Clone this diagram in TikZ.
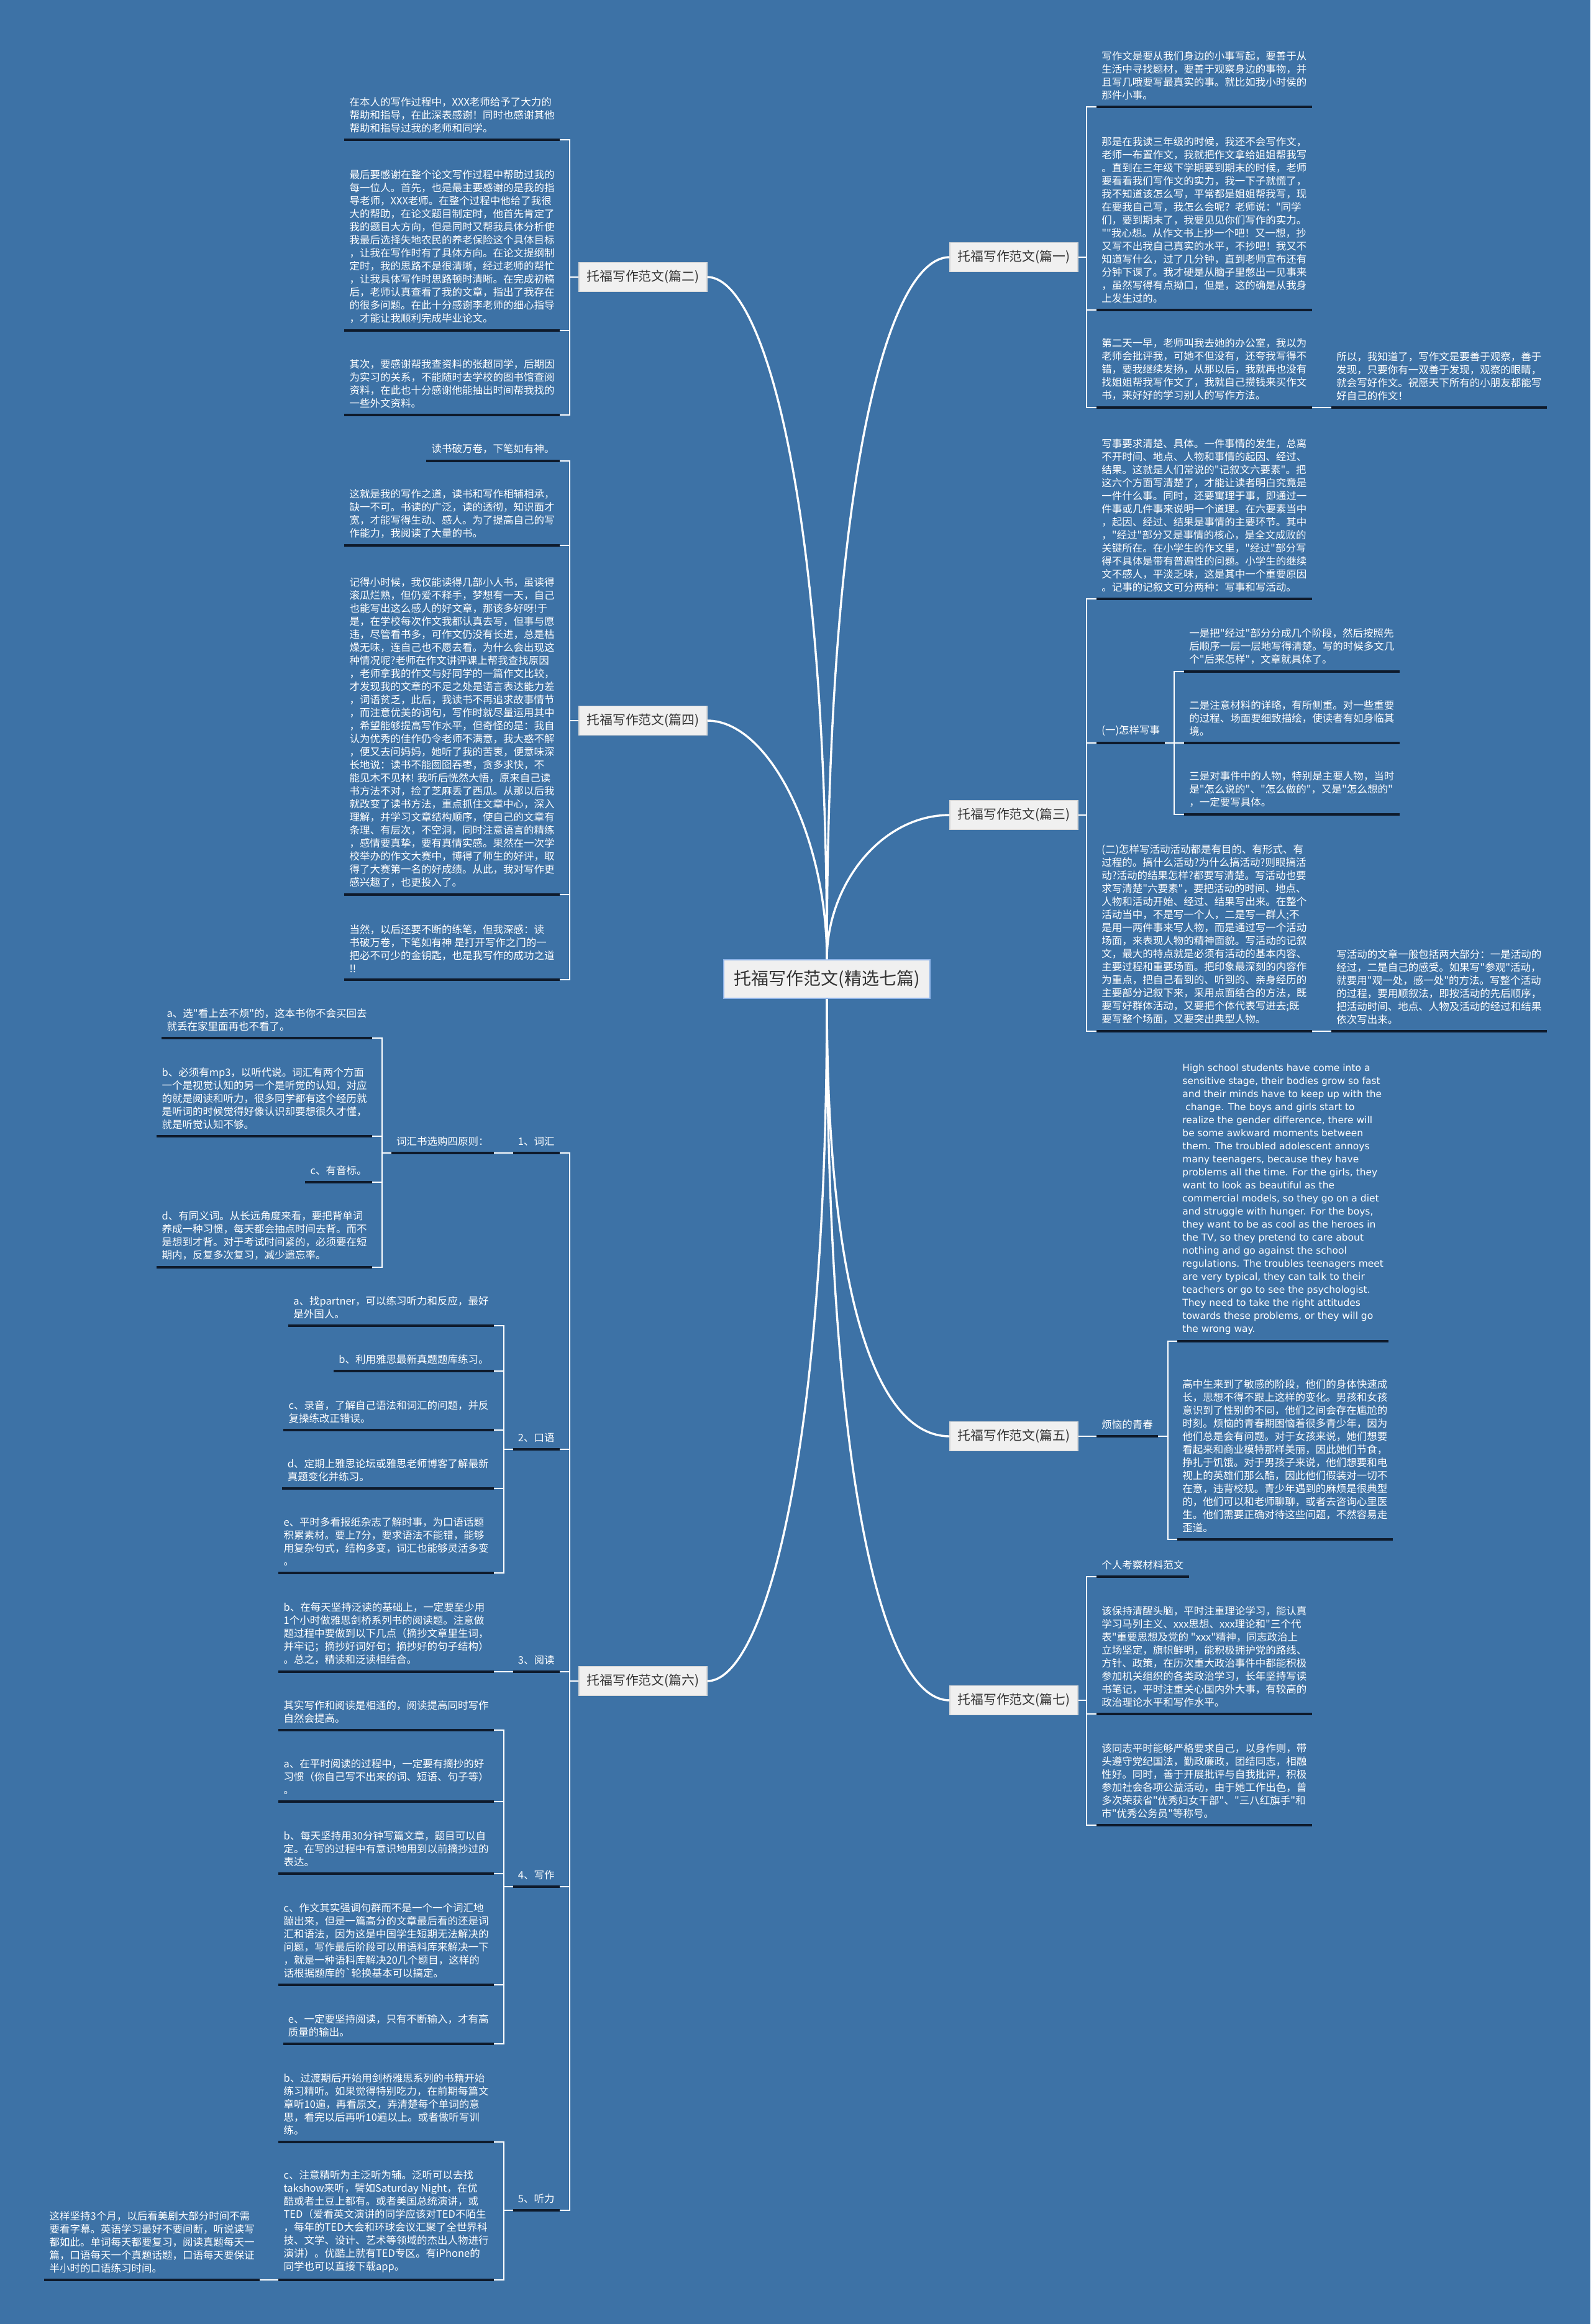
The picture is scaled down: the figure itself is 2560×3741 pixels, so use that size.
\documentclass[tikz,border=0pt]{standalone}
\usepackage{fontspec}
\newfontfamily\cjk{Noto Sans CJK SC}
\newfontfamily\enfont{DejaVu Sans}
\definecolor{bgcol}{HTML}{3D72A6}
\definecolor{ulcol}{HTML}{0E1A2B}
\definecolor{boxfill}{HTML}{F0F0F0}
\definecolor{boxtext}{HTML}{333333}
\definecolor{boxdraw}{HTML}{D8D8D8}
\definecolor{rootdraw}{HTML}{8DB3E8}
\tikzset{
  uline/.style={draw=ulcol, line width=1.75pt},
  leaf/.style={font=\cjk\fontsize{8.25pt}{10.5pt}\selectfont, text=white, align=left,
    inner xsep=4pt, inner ysep=5.5pt,
    append after command={(\tikzlastnode.south west) edge[uline] (\tikzlastnode.south east)}},
  leafR/.style={leaf, anchor=south west},
  leafL/.style={leaf, anchor=south east},
  conn/.style={draw=white, line width=1.4pt},
  curve/.style={draw=white, line width=1.7pt},
  branch/.style={draw=boxdraw, line width=0.6pt, fill=boxfill, text=boxtext,
    font=\cjk\fontsize{10.4pt}{12pt}\selectfont, minimum width=103pt, minimum height=23.5pt, inner sep=0pt},
  root/.style={draw=rootdraw, line width=1pt, fill=boxfill, text=boxtext,
    font=\cjk\fontsize{14pt}{16pt}\selectfont, minimum width=166pt, minimum height=31pt, inner sep=0pt}
}
\begin{document}
\begin{tikzpicture}[x=0.5pt,y=-0.5pt]
\useasboundingbox (0,0) rectangle (2560,3741);
\fill[bgcol] (0,0) rectangle (2560,3741);

% root
\node[root] (root) at (1331,1576) {托福写作范文(精选七篇)};

% branches
\node[branch] (b1) at (1632,414) {托福写作范文(篇一)};
\node[branch] (b3) at (1632,1312) {托福写作范文(篇三)};
\node[branch] (b5) at (1632,2312) {托福写作范文(篇五)};
\node[branch] (b7) at (1632,2737) {托福写作范文(篇七)};
\node[branch] (b2) at (1035,446) {托福写作范文(篇二)};
\node[branch] (b4) at (1035,1160) {托福写作范文(篇四)};
\node[branch] (b6) at (1035,2706) {托福写作范文(篇六)};

% curves
\draw[curve] (root.north) .. controls +(0,-745) and +(90,0) .. (b2.east);
\draw[curve] (root.north) .. controls +(0,-195) and +(100,0) .. (b4.east);
\draw[curve] (root.north) .. controls +(0,-770) and +(-100,0) .. (b1.west);
\draw[curve] (root.north) .. controls +(0,-120) and +(-110,0) .. (b3.west);
\draw[curve] (root.south) .. controls +(0,470) and +(-120,0) .. (b5.west);
\draw[curve] (root.south) .. controls +(0,745) and +(90,0) .. (b6.east);
\draw[curve] (root.south) .. controls +(0,760) and +(-110,0) .. (b7.west);

% ---------------- 篇一
\node[leafR] (b1a) at (1765,172) {写作文是要从我们身边的小事写起，要善于从\\%
生活中寻找题材，要善于观察身边的事物，并\\%
且写几哦要写最真实的事。就比如我小时侯的\\%
那件小事。};
\node[leafR] (b1b) at (1765,499) {那是在我读三年级的时候，我还不会写作文，\\%
老师一布置作文，我就把作文拿给姐姐帮我写\\%
。直到在三年级下学期要到期末的时候，老师\\%
要看看我们写作文的实力，我一下子就慌了，\\%
我不知道该怎么写，平常都是姐姐帮我写，现\\%
在要我自己写，我怎么会呢？老师说："同学\\%
们，要到期末了，我要见见你们写作的实力。\\%
""我心想。从作文书上抄一个吧！又一想，抄\\%
又写不出我自己真实的水平，不抄吧！我又不\\%
知道写什么，过了几分钟，直到老师宣布还有\\%
分钟下课了。我才硬是从脑子里憋出一见事来\\%
，虽然写得有点拗口，但是，这的确是从我身\\%
上发生过的。};
\node[leafR] (b1c) at (1765,656) {第二天一早，老师叫我去她的办公室，我以为\\%
老师会批评我，可她不但没有，还夸我写得不\\%
错，要我继续发扬，从那以后，我就再也没有\\%
找姐姐帮我写作文了，我就自己攒钱来买作文\\%
书，来好好的学习别人的写作方法。};
\node[leafR] (b1c1) at (2143,656) {所以，我知道了，写作文是要善于观察，善于\\%
发现，只要你有一双善于发现，观察的眼睛，\\%
就会写好作文。祝愿天下所有的小朋友都能写\\%
好自己的作文！};
\draw[conn] (b1.east) -| ([xshift=-8pt]b1a.south west) -- (b1a.south west);
\draw[conn] (b1.east) -| ([xshift=-8pt]b1c.south west) -- (b1c.south west);
\draw[conn] ([xshift=-8pt]b1b.south west) -- (b1b.south west);
\draw[conn] (b1c.south east) -- (b1c1.south west);

% ---------------- 篇三
\node[leafR] (b3a) at (1765,964) {写事要求清楚、具体。一件事情的发生，总离\\%
不开时间、地点、人物和事情的起因、经过、\\%
结果。这就是人们常说的"记叙文六要素"。把\\%
这六个方面写清楚了，才能让读者明白究竟是\\%
一件什么事。同时，还要寓理于事，即通过一\\%
件事或几件事来说明一个道理。在六要素当中\\%
，起因、经过、结果是事情的主要环节。其中\\%
，"经过"部分又是事情的核心，是全文成败的\\%
关键所在。在小学生的作文里，"经过"部分写\\%
得不具体是带有普遍性的问题。小学生的继续\\%
文不感人，平淡乏味，这是其中一个重要原因\\%
。记事的记叙文可分两种：写事和写活动。};
\node[leafR] (b3b) at (1765,1196) {(一)怎样写事};
\node[leafR] (b3b1) at (1906,1081) {一是把"经过"部分分成几个阶段，然后按照先\\%
后顺序一层一层地写得清楚。写的时候多文几\\%
个"后来怎样"，文章就具体了。};
\node[leafR] (b3b2) at (1906,1196) {二是注意材料的详略，有所侧重。对一些重要\\%
的过程、场面要细致描绘，使读者有如身临其\\%
境。};
\node[leafR] (b3b3) at (1906,1311) {三是对事件中的人物，特别是主要人物，当时\\%
是"怎么说的"、"怎么做的"，又是"怎么想的"\\%
，一定要写具体。};
\node[leafR] (b3c) at (1765,1660) {(二)怎样写活动活动都是有目的、有形式、有\\%
过程的。搞什么活动?为什么搞活动?则眼搞活\\%
动?活动的结果怎样?都要写清楚。写活动也要\\%
求写清楚"六要素"，要把活动的时间、地点、\\%
人物和活动开始、经过、结果写出来。在整个\\%
活动当中，不是写一个人，二是写一群人;不\\%
是用一两件事来写人物，而是通过写一个活动\\%
场面，来表现人物的精神面貌。写活动的记叙\\%
文，最大的特点就是必须有活动的基本内容、\\%
主要过程和重要场面。把印象最深刻的内容作\\%
为重点，把自己看到的、听到的、亲身经历的\\%
主要部分记叙下来，采用点面结合的方法，既\\%
要写好群体活动，又要把个体代表写进去;既\\%
要写整个场面，又要突出典型人物。};
\node[leafR] (b3c1) at (2143,1660) {写活动的文章一般包括两大部分：一是活动的\\%
经过，二是自己的感受。如果写"参观"活动，\\%
就要用"观一处，感一处"的方法。写整个活动\\%
的过程，要用顺叙法，即按活动的先后顺序，\\%
把活动时间、地点、人物及活动的经过和结果\\%
依次写出来。};
\draw[conn] (b3.east) -| ([xshift=-8pt]b3a.south west) -- (b3a.south west);
\draw[conn] (b3.east) -| ([xshift=-8pt]b3c.south west) -- (b3c.south west);
\draw[conn] ([xshift=-8pt]b3b.south west) -- (b3b.south west);
\draw[conn] (b3b.south east) -| ([xshift=-8pt]b3b1.south west) -- (b3b1.south west);
\draw[conn] (b3b.south east) -| ([xshift=-8pt]b3b3.south west) -- (b3b3.south west);
\draw[conn] ([xshift=-8pt]b3b2.south west) -- (b3b2.south west);
\draw[conn] (b3c.south east) -- (b3c1.south west);

% ---------------- 篇五
\node[leafR] (b5a) at (1765,2312) {烦恼的青春};
\node[leafR, font=\enfont\fontsize{7.75pt}{10.5pt}\selectfont] (b5a1) at (1895,2159) {High school students have come into a\\%
sensitive stage, their bodies grow so fast\\%
and their minds have to keep up with the\\%
\hspace*{0.32em}change. The boys and girls start to\\%
realize the gender difference, there will\\%
be some awkward moments between\\%
them. The troubled adolescent annoys\\%
many teenagers, because they have\\%
problems all the time. For the girls, they\\%
want to look as beautiful as the\\%
commercial models, so they go on a diet\\%
and struggle with hunger. For the boys,\\%
they want to be as cool as the heroes in\\%
the TV, so they pretend to care about\\%
nothing and go against the school\\%
regulations. The troubles teenagers meet\\%
are very typical, they can talk to their\\%
teachers or go to see the psychologist.\\%
They need to take the right attitudes\\%
towards these problems, or they will go\\%
the wrong way.};
\node[leafR] (b5a2) at (1895,2478) {高中生来到了敏感的阶段，他们的身体快速成\\%
长，思想不得不跟上这样的变化。男孩和女孩\\%
意识到了性别的不同，他们之间会存在尴尬的\\%
时刻。烦恼的青春期困恼着很多青少年，因为\\%
他们总是会有问题。对于女孩来说，她们想要\\%
看起来和商业模特那样美丽，因此她们节食，\\%
挣扎于饥饿。对于男孩子来说，他们想要和电\\%
视上的英雄们那么酷，因此他们假装对一切不\\%
在意，违背校规。青少年遇到的麻烦是很典型\\%
的，他们可以和老师聊聊，或者去咨询心里医\\%
生。他们需要正确对待这些问题，不然容易走\\%
歪道。};
\draw[conn] (b5.east) -- (b5a.south west);
\draw[conn] (b5a.south east) -| ([xshift=-7.5pt]b5a1.south west) -- (b5a1.south west);
\draw[conn] (b5a.south east) -| ([xshift=-7.5pt]b5a2.south west) -- (b5a2.south west);

% ---------------- 篇七
\node[leafR] (b7a) at (1765,2538) {个人考察材料范文};
\node[leafR] (b7b) at (1765,2759) {该保持清醒头脑，平时注重理论学习，能认真\\%
学习马列主义、xxx思想、xxx理论和"三个代\\%
表"重要思想及党的 "xxx"精神，同志政治上\\%
立场坚定，旗帜鲜明，能积极拥护党的路线、\\%
方针、政策，在历次重大政治事件中都能积极\\%
参加机关组织的各类政治学习，长年坚持写读\\%
书笔记，平时注重关心国内外大事，有较高的\\%
政治理论水平和写作水平。};
\node[leafR] (b7c) at (1765,2938) {该同志平时能够严格要求自己，以身作则，带\\%
头遵守党纪国法，勤政廉政，团结同志，相融\\%
性好。同时，善于开展批评与自我批评，积极\\%
参加社会各项公益活动，由于她工作出色，曾\\%
多次荣获省"优秀妇女干部"、"三八红旗手"和\\%
市"优秀公务员"等称号。};
\draw[conn] (b7.east) -| ([xshift=-8pt]b7a.south west) -- (b7a.south west);
\draw[conn] (b7.east) -| ([xshift=-8pt]b7c.south west) -- (b7c.south west);
\draw[conn] ([xshift=-8pt]b7b.south west) -- (b7b.south west);

% ---------------- 篇二
\node[leafL] (b2a) at (901,225) {在本人的写作过程中，XXX老师给予了大力的\\%
帮助和指导，在此深表感谢！同时也感谢其他\\%
帮助和指导过我的老师和同学。};
\node[leafL] (b2b) at (901,532) {最后要感谢在整个论文写作过程中帮助过我的\\%
每一位人。首先，也是最主要感谢的是我的指\\%
导老师，XXX老师。在整个过程中他给了我很\\%
大的帮助，在论文题目制定时，他首先肯定了\\%
我的题目大方向，但是同时又帮我具体分析使\\%
我最后选择失地农民的养老保险这个具体目标\\%
，让我在写作时有了具体方向。在论文提纲制\\%
定时，我的思路不是很清晰，经过老师的帮忙\\%
，让我具体写作时思路顿时清晰。在完成初稿\\%
后，老师认真查看了我的文章，指出了我存在\\%
的很多问题。在此十分感谢李老师的细心指导\\%
，才能让我顺利完成毕业论文。};
\node[leafL] (b2c) at (901,668) {其次，要感谢帮我查资料的张超同学，后期因\\%
为实习的关系，不能随时去学校的图书馆查阅\\%
资料，在此也十分感谢他能抽出时间帮我找的\\%
一些外文资料。};
\draw[conn] (b2.west) -| ([xshift=8pt]b2a.south east) -- (b2a.south east);
\draw[conn] (b2.west) -| ([xshift=8pt]b2c.south east) -- (b2c.south east);
\draw[conn] ([xshift=8pt]b2b.south east) -- (b2b.south east);

% ---------------- 篇四
\node[leafL] (b4a) at (901,742) {读书破万卷，下笔如有神。};
\node[leafL] (b4b) at (901,878) {这就是我的写作之道，读书和写作相辅相承，\\%
缺一不可。书读的广泛，读的透彻，知识面才\\%
宽，才能写得生动、感人。为了提高自己的写\\%
作能力，我阅读了大量的书。};
\node[leafL] (b4c) at (901,1440) {记得小时候，我仅能读得几部小人书，虽读得\\%
滚瓜烂熟，但仍爱不释手，梦想有一天，自己\\%
也能写出这么感人的好文章，那该多好呀!于\\%
是，在学校每次作文我都认真去写，但事与愿\\%
违，尽管看书多，可作文仍没有长进，总是枯\\%
燥无味，连自己也不愿去看。为什么会出现这\\%
种情况呢?老师在作文讲评课上帮我查找原因\\%
，老师拿我的作文与好同学的一篇作文比较，\\%
才发现我的文章的不足之处是语言表达能力差\\%
，词语贫乏，此后，我读书不再追求故事情节\\%
，而注意优美的词句，写作时就尽量运用其中\\%
，希望能够提高写作水平，但奇怪的是：我自\\%
认为优秀的佳作仍令老师不满意，我大惑不解\\%
，便又去问妈妈，她听了我的苦衷，便意味深\\%
长地说：读书不能囫囵吞枣，贪多求快，不\\%
能见木不见林! 我听后恍然大悟，原来自己读\\%
书方法不对，捡了芝麻丢了西瓜。从那以后我\\%
就改变了读书方法，重点抓住文章中心，深入\\%
理解，并学习文章结构顺序，使自己的文章有\\%
条理、有层次，不空洞，同时注意语言的精练\\%
，感情要真挚，要有真情实感。果然在一次学\\%
校举办的作文大赛中，博得了师生的好评，取\\%
得了大赛第一名的好成绩。从此，我对写作更\\%
感兴趣了，也更投入了。};
\node[leafL] (b4d) at (901,1577) {当然，以后还要不断的练笔，但我深感：读\\%
书破万卷，下笔如有神 是打开写作之门的一\\%
把必不可少的金钥匙，也是我写作的成功之道\\%
!!};
\draw[conn] (b4.west) -| ([xshift=8pt]b4a.south east) -- (b4a.south east);
\draw[conn] (b4.west) -| ([xshift=8pt]b4d.south east) -- (b4d.south east);
\draw[conn] ([xshift=8pt]b4b.south east) -- (b4b.south east);
\draw[conn] ([xshift=8pt]b4c.south east) -- (b4c.south east);

% ---------------- 篇六
\node[leafL] (b6a) at (901,1856) {1、词汇};
\node[leafL] (b6b) at (901,2333) {2、口语};
\node[leafL] (b6c) at (901,2691) {3、阅读};
\node[leafL] (b6d) at (901,3037) {4、写作};
\node[leafL] (b6e) at (901,3558) {5、听力};
\draw[conn] (b6.west) -| ([xshift=8pt]b6a.south east) -- (b6a.south east);
\draw[conn] (b6.west) -| ([xshift=8pt]b6e.south east) -- (b6e.south east);
\draw[conn] ([xshift=8pt]b6b.south east) -- (b6b.south east);
\draw[conn] ([xshift=8pt]b6c.south east) -- (b6c.south east);
\draw[conn] ([xshift=8pt]b6d.south east) -- (b6d.south east);

% 1 词汇
\node[leafL] (b6a1) at (795,1856) {词汇书选购四原则：};
\node[leafL] (b6a1a) at (599,1671) {a、选"看上去不烦"的，这本书你不会买回去\\%
就丢在家里面再也不看了。};
\node[leafL] (b6a1b) at (599,1829) {b、必须有mp3，以听代说。词汇有两个方面\\%
一个是视觉认知的另一个是听觉的认知，对应\\%
的就是阅读和听力，很多同学都有这个经历就\\%
是听词的时候觉得好像认识却要想很久才懂，\\%
就是听觉认知不够。};
\node[leafL] (b6a1c) at (599,1903) {c、有音标。};
\node[leafL] (b6a1d) at (599,2040) {d、有同义词。从长远角度来看，要把背单词\\%
养成一种习惯，每天都会抽点时间去背。而不\\%
是想到才背。对于考试时间紧的，必须要在短\\%
期内，反复多次复习，减少遗忘率。};
\draw[conn] (b6a.south west) -- (b6a1.south east);
\draw[conn] (b6a1.south west) -| ([xshift=8pt]b6a1a.south east) -- (b6a1a.south east);
\draw[conn] (b6a1.south west) -| ([xshift=8pt]b6a1d.south east) -- (b6a1d.south east);
\draw[conn] ([xshift=8pt]b6a1b.south east) -- (b6a1b.south east);
\draw[conn] ([xshift=8pt]b6a1c.south east) -- (b6a1c.south east);

% 2 口语
\node[leafL] (b6b1) at (795,2134) {a、找partner，可以练习听力和反应，最好\\%
是外国人。};
\node[leafL] (b6b2) at (795,2207) {b、利用雅思最新真题题库练习。};
\node[leafL] (b6b3) at (795,2302) {c、录音，了解自己语法和词汇的问题，并反\\%
复操练改正错误。};
\node[leafL] (b6b4) at (795,2396) {d、定期上雅思论坛或雅思老师博客了解最新\\%
真题变化并练习。};
\node[leafL] (b6b5) at (795,2532) {e、平时多看报纸杂志了解时事，为口语话题\\%
积累素材。要上7分，要求语法不能错，能够\\%
用复杂句式，结构多变，词汇也能够灵活多变\\%
。};
\draw[conn] (b6b.south west) -| ([xshift=8pt]b6b1.south east) -- (b6b1.south east);
\draw[conn] (b6b.south west) -| ([xshift=8pt]b6b5.south east) -- (b6b5.south east);
\draw[conn] ([xshift=8pt]b6b2.south east) -- (b6b2.south east);
\draw[conn] ([xshift=8pt]b6b3.south east) -- (b6b3.south east);
\draw[conn] ([xshift=8pt]b6b4.south east) -- (b6b4.south east);

% 3 阅读
\node[leafL] (b6c1) at (795,2691) {b、在每天坚持泛读的基础上，一定要至少用\\%
1个小时做雅思剑桥系列书的阅读题。注意做\\%
题过程中要做到以下几点（摘抄文章里生词，\\%
并牢记；摘抄好词好句；摘抄好的句子结构）\\%
。总之，精读和泛读相结合。};
\draw[conn] (b6c.south west) -- (b6c1.south east);

% 4 写作
\node[leafL] (b6d1) at (795,2785) {其实写作和阅读是相通的，阅读提高同时写作\\%
自然会提高。};
\node[leafL] (b6d2) at (795,2900) {a、在平时阅读的过程中，一定要有摘抄的好\\%
习惯（你自己写不出来的词、短语、句子等）\\%
。};
\node[leafL] (b6d3) at (795,3016) {b、每天坚持用30分钟写篇文章，题目可以自\\%
定。在写的过程中有意识地用到以前摘抄过的\\%
表达。};
\node[leafL] (b6d4) at (795,3195) {c、作文其实强调句群而不是一个一个词汇地\\%
蹦出来，但是一篇高分的文章最后看的还是词\\%
汇和语法，因为这是中国学生短期无法解决的\\%
问题，写作最后阶段可以用语料库来解决一下\\%
，就是一种语料库解决20几个题目，这样的\\%
话根据题库的{\char96}轮换基本可以搞定。};
\node[leafL] (b6d5) at (795,3290) {e、一定要坚持阅读，只有不断输入，才有高\\%
质量的输出。};
\draw[conn] (b6d.south west) -| ([xshift=8pt]b6d1.south east) -- (b6d1.south east);
\draw[conn] (b6d.south west) -| ([xshift=8pt]b6d5.south east) -- (b6d5.south east);
\draw[conn] ([xshift=8pt]b6d2.south east) -- (b6d2.south east);
\draw[conn] ([xshift=8pt]b6d3.south east) -- (b6d3.south east);
\draw[conn] ([xshift=8pt]b6d4.south east) -- (b6d4.south east);

% 5 听力
\node[leafL] (b6e1) at (795,3448) {b、过渡期后开始用剑桥雅思系列的书籍开始\\%
练习精听。如果觉得特别吃力，在前期每篇文\\%
章听10遍，再看原文，弄清楚每个单词的意\\%
思，看完以后再听10遍以上。或者做听写训\\%
练。};
\node[leafL] (b6e2) at (795,3670) {c、注意精听为主泛听为辅。泛听可以去找\\%
takshow来听，譬如Saturday Night，在优\\%
酷或者土豆上都有。或者美国总统演讲，或\\%
TED（爱看英文演讲的同学应该对TED不陌生\\%
，每年的TED大会和环球会议汇聚了全世界科\\%
技、文学、设计、艺术等领域的杰出人物进行\\%
演讲）。优酷上就有TED专区。有iPhone的\\%
同学也可以直接下载app。};
\node[leafL] (b6e2a) at (418,3670) {这样坚持3个月，以后看美剧大部分时间不需\\%
要看字幕。英语学习最好不要间断，听说读写\\%
都如此。单词每天都要复习，阅读真题每天一\\%
篇，口语每天一个真题话题，口语每天要保证\\%
半小时的口语练习时间。};
\draw[conn] (b6e.south west) -| ([xshift=8pt]b6e1.south east) -- (b6e1.south east);
\draw[conn] (b6e.south west) -| ([xshift=8pt]b6e2.south east) -- (b6e2.south east);
\draw[conn] (b6e2.south west) -- (b6e2a.south east);
\end{tikzpicture}
\end{document}
